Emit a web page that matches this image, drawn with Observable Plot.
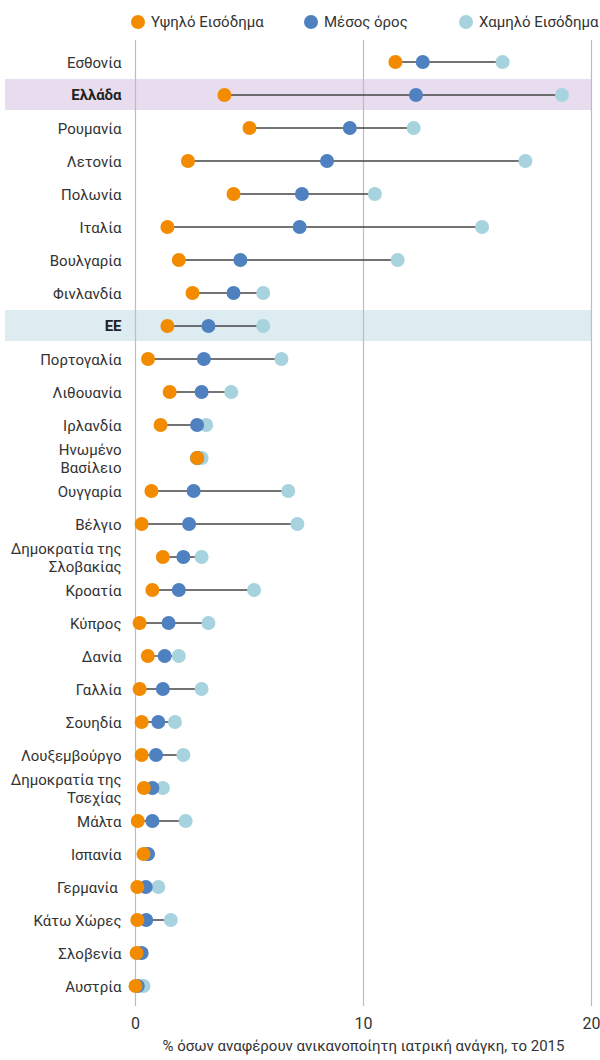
<!DOCTYPE html>
<html><head><meta charset="utf-8">
<script src="https://cdn.jsdelivr.net/npm/d3@7"></script>
<script src="https://cdn.jsdelivr.net/npm/@observablehq/plot@0.6"></script>
<style>
html,body{margin:0;padding:0;background:#fff;font-family:Roboto,"Noto Sans",sans-serif;overflow:hidden;}
#legend{position:relative;height:40px;width:600px;font-size:15px;color:#333;}
.item{position:absolute;top:13px;display:flex;align-items:center;height:18px;white-space:nowrap;}
.dot{width:14px;height:14px;border-radius:50%;margin-right:6px;flex:none;}
#chart svg{display:block;}
</style></head><body>
<div id="legend"></div>
<div id="chart"></div>
<script>
const countries = ["Εσθονία","Ελλάδα","Ρουμανία","Λετονία","Πολωνία","Ιταλία","Βουλγαρία","Φινλανδία","ΕΕ","Πορτογαλία","Λιθουανία","Ιρλανδία","Ηνωμένο\nΒασίλειο","Ουγγαρία","Βέλγιο","Δημοκρατία της\nΣλοβακίας","Κροατία","Κύπρος","Δανία","Γαλλία","Σουηδία","Λουξεμβούργο","Δημοκρατία της\nΤσεχίας","Μάλτα","Ισπανία","Γερμανία\u00a0","Κάτω Χώρες","Σλοβενία","Αυστρία"];
const high = [11.4,3.9,5.0,2.3,4.3,1.4,1.9,2.5,1.4,0.55,1.5,1.1,2.7,0.7,0.27,1.2,0.74,0.18,0.54,0.18,0.27,0.27,0.37,0.1,0.35,0.08,0.08,0.05,0.0];
const avg  = [12.6,12.3,9.4,8.4,7.3,7.2,4.6,4.3,3.2,3.0,2.9,2.7,2.7,2.55,2.35,2.1,1.9,1.45,1.28,1.2,1.0,0.9,0.74,0.74,0.55,0.45,0.47,0.27,0.1];
const low  = [16.1,18.7,12.2,17.1,10.5,15.2,11.5,5.6,5.6,6.4,4.2,3.1,2.9,6.7,7.1,2.9,5.2,3.2,1.9,2.9,1.73,2.1,1.2,2.2,0.5,1.0,1.55,0.2,0.35];
const seriesNames = ["Υψηλό Εισόδημα","Μέσος όρος","Χαμηλό Εισόδημα"];
const highlighted = ["Ελλάδα","ΕΕ"];
const xTicks = [0,10,20];
const xLabel = "% όσων αναφέρουν ανικανοποίητη ιατρική ανάγκη, το 2015";

const cOrange = "#f28b00", cBlue = "#4f80bf", cLight = "#a6d3de";
const seriesColors = [cOrange, cBlue, cLight];
const legendX = [131, 304, 459];
const legend = document.getElementById("legend");
seriesNames.forEach((n,i)=>{
  const it = document.createElement("div");
  it.className = "item"; it.style.left = legendX[i] + "px";
  it.innerHTML = `<span class="dot" style="background:${seriesColors[i]}"></span><span>${n}</span>`;
  legend.appendChild(it);
});

const rows = countries.map((c,i)=>({country:c, high:high[i], avg:avg[i], low:low[i]}));
const font = "Roboto, 'Noto Sans', sans-serif";

const chart = Plot.plot({
  width: 600, height: 1020,
  marginLeft: 135, marginRight: 9, marginTop: 0, marginBottom: 54,
  x: {domain: [0, 20], ticks: xTicks},
  y: {domain: countries, padding: 0, axis: null},
  style: {fontFamily: font, fontSize: "15px", color: "#333", background: "white"},
  marks: [
    Plot.barX(rows.filter(d => d.country === highlighted[0]), {x1: 0, x2: 20, y: "country", fill: "#e7ddee", insetLeft: -130, insetTop: 1, insetBottom: 1}),
    Plot.barX(rows.filter(d => d.country === highlighted[1]), {x1: 0, x2: 20, y: "country", fill: "#ddecf1", insetLeft: -130, insetTop: 1, insetBottom: 1}),
    Plot.ruleX(xTicks, {stroke: "#bdbdbd", strokeWidth: 1.2}),
    Plot.ruleY(rows, {y: "country", x1: d => Math.min(d.high, d.avg, d.low), x2: d => Math.max(d.high, d.avg, d.low), stroke: "#444", strokeWidth: 1.3}),
    Plot.dot(rows, {x: "low", y: "country", r: 7, fill: cLight}),
    Plot.dot(rows, {x: "avg", y: "country", r: 7, fill: cBlue}),
    Plot.dot(rows, {x: "high", y: "country", r: 7, fill: cOrange}),
    Plot.text(rows.filter(d => !highlighted.includes(d.country)), {y: "country", text: "country", frameAnchor: "left", dx: -14, textAnchor: "end", lineHeight: 1.2, fill: "#333", fontSize: 15}),
    Plot.text(rows.filter(d => highlighted.includes(d.country)), {y: "country", text: "country", frameAnchor: "left", dx: -14, textAnchor: "end", fill: "#222", fontSize: 15, fontWeight: "bold"}),
    Plot.axisX({ticks: xTicks, tickSize: 0, tickPadding: 11, fontSize: 16, label: null, fill: "#333"}),
    Plot.text([xLabel], {frameAnchor: "bottom", dy: 44, fontSize: 15, fill: "#333"})
  ]
});
document.getElementById("chart").appendChild(chart);
</script>
</body></html>
